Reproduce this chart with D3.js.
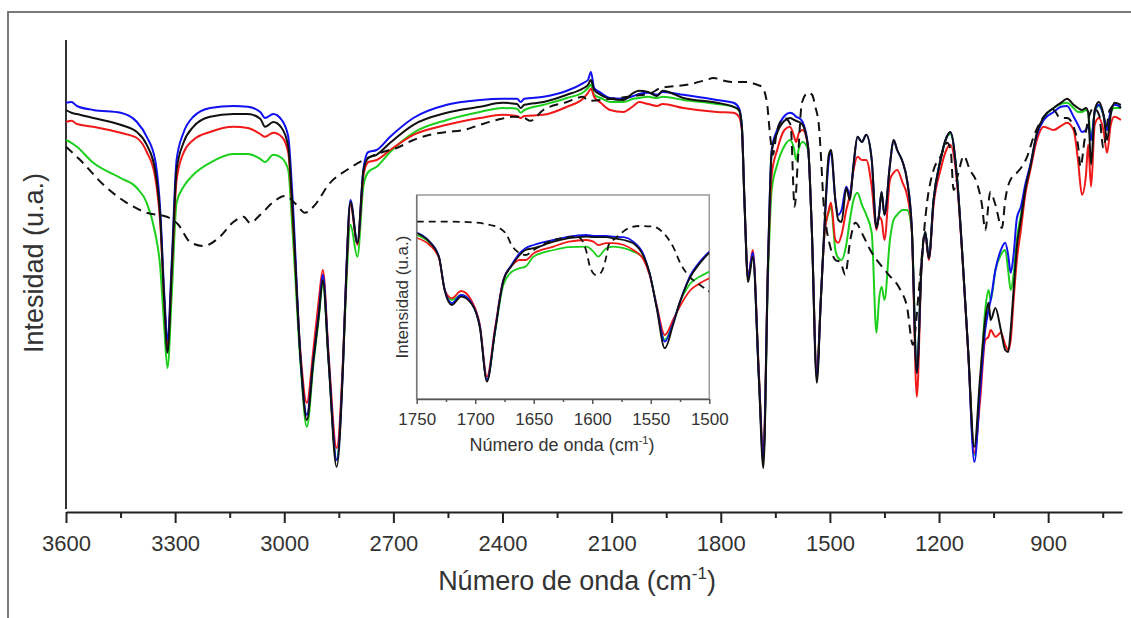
<!DOCTYPE html>
<html lang="es">
<head>
<meta charset="UTF-8">
<title>FTIR</title>
<script src="https://cdn.jsdelivr.net/npm/d3@7"></script>
<style>
  body { margin: 0; background: #fff; }
  text { font-family: "Liberation Sans", Arial, sans-serif; }
</style>
</head>
<body>
<script>
// main spectrum, shared wavenumber grid for the four solid curves (cm-1)
const wn = [3600,3585,3570,3525,3450,3405,3378,3355,3341,3330,3321,3309,3296,3277,3250,3204,3140,3100,3066,3053,
  3030,3007,2989,2978,2955,2938,2920,2905,2894,2878,2856,2838,2830,2818,2799,2782,2769,2746,2709,2645,
  2553,2462,2400,2360,2350,2340,2287,2223,2177,2165,2157,2148,2130,2104,2068,2040,2025,2000,1975,1960,
  1903,1811,1765,1750,1742,1735,1725,1712,1695,1683,1670,1660,1645,1625,1610,1598,1593,1585,1575,1560,
  1550,1536,1525,1515,1503,1497,1485,1477,1468,1455,1445,1435,1424,1412,1400,1385,1372,1365,1358,1350,
  1335,1325,1315,1300,1288,1275,1261,1248,1238,1228,1215,1196,1180,1169,1150,1135,1120,1103,1087,1073,
  1064,1058,1045,1030,1018,1010,1003,995,986,975,963,949,931,912,885,865,848,830,818,807,
  796,790,782,772,761,748,738,728,718,700];

const blue = [102.3,102.5,101.5,100.5,99.8,97.5,93.8,88,75.5,54.8,43,63,88,94.8,98.8,101,101.5,101.3,100,98.5,
  99.5,98,93.8,79.8,38,24.3,38,49.8,59.3,38,13,38,58.8,78,67.3,86,90,90.5,93.8,98.5,
  101.8,103,103.3,103.3,102.5,103.3,103.8,105.3,107.3,108,110,106,104.8,103.5,103.3,104,104.5,104.8,104.3,105,
  104.3,103,102.3,101,96.3,78,58.5,64.8,33,13,63,90.5,95.5,99,99.8,99.3,98.8,98.5,97.5,91.3,
  71.3,33.5,53,71.3,88,90,78,74.3,75.5,81.3,79.3,86.8,93.8,92.5,94.3,88,71,74.3,80,74.3,
  86.8,93,90.5,87.5,83,71.3,34.8,61.8,70,63.5,78,88,93.5,95,83,63,40.5,12.5,30.5,45.5,
  50.5,53,60.5,65.5,67.3,64.3,59.8,64.3,73.5,76.3,81.8,86.8,94.3,98,100,101.3,101.5,98.8,96.8,95,
  95.5,96.8,93,100,101.8,99.3,95.5,100.5,101.8,101.3];

const black = [100.5,99.8,99.5,98.5,96.8,95,91.8,85.5,73.8,53,39.8,61.3,85.5,92.3,96.3,98.8,99.5,99.5,98.3,96.3,
  97.5,96,91.3,76.8,38,23,38,49.3,58,37.5,11.3,37.5,58,77.5,67.3,85.5,88.5,89.3,92.3,96.8,
  99.8,101.3,102.3,102,101,101.8,102.5,104.3,106,106.8,108,105.5,104.3,103.3,103,104.8,105.3,105,104,105.3,
  103.5,102.3,101.3,100.5,96.3,78,57.5,63.8,33,11,62.5,90,94.8,97.8,98.5,98,97.8,97.5,96.8,91.3,
  71.3,32.3,53,71.3,89.3,90.5,78,73,72.5,81,78,86.8,93.8,92.5,94.3,88,71,74.3,80,74.3,
  86.8,93,90.5,87.5,83,71.3,34.8,61.8,70,63.5,78,88,93.5,95,83,63,40.5,16.3,33.8,48,
  52.3,48,51,45.5,40.5,40,45.5,55.5,66.3,73,80.5,86.3,94.8,98.8,101,102.3,103.3,101.8,101,100.5,
  101,100,86.8,100.5,102.5,99.3,93,99.3,102.3,101.8];

const red = [97.5,97.8,97,96.3,94.8,93.5,90,83.8,72.3,53,41.8,60.5,83,89.8,93,95,96.3,96,94.5,93.8,
  94.8,93.8,89.8,75.5,39.3,27.3,40.5,53,60.5,39.3,16,39.3,58,76.8,66.8,84.3,87.5,88,90.5,94.3,
  96.8,98.5,99.3,99,98.5,99,99.3,101.3,103.5,104.8,105.8,103.8,102.3,100.5,100,101.5,102.5,102,101.5,102,
  101,100,99.8,98.8,95.5,78,58.5,65.5,34.3,14.3,62.5,84.3,90.5,95.5,96.3,93.8,92.5,94.8,95.5,91.3,
  71.3,35,53,69.3,75.5,77.3,68,67.3,69.3,75.5,79.3,85.5,88.8,88,88,81.3,70.5,73.8,73,68,
  83,84.8,85.5,82.3,79.3,70.5,28.8,61.8,69.3,63,76.8,85.5,90.5,91.8,81.8,62.5,40,14.8,28,43,
  43.8,45.5,43.8,44.8,41.8,40.5,43,53,63,70.5,79.3,85.5,93,96.3,95.5,96.5,97.3,95.5,88,79.3,
  84.3,91.8,81.3,96.8,98.5,95.5,89.8,96.8,98.8,98];

const green = [93,92.3,91.3,87.3,83.5,81,77.3,69.8,61.3,46.3,36,54.8,77.3,81.3,84.3,87.3,89.5,89.5,88.3,87.5,
  89.3,88.5,85.5,71.3,36.8,21.3,36.8,48.5,57.5,37.5,13,38,55.5,71.8,63.8,81.8,85,86.3,90,94.8,
  98,100,101,100.8,99.8,100.5,101.8,103.5,105,106,106.8,104.3,103.5,102.5,102.5,103.3,103.5,103.8,103.5,103.8,
  103,102,101.3,100.5,96.3,78,58.5,64.3,33.5,13.5,59.3,80.5,86.8,91.5,93,90.5,88,91,92.5,90.5,
  71.3,35,53,69.3,75,76.3,65.5,63.5,63,66.8,73,78,79.8,76.8,74.3,69.8,44.8,53,56.3,53,
  68,73,74.3,75.5,75.5,70.5,34.8,61.8,70,63.5,78,88,93.5,94.5,83,63,40.5,14.3,31.8,50.5,
  55.5,53,60.5,64.3,65.5,60.5,55.5,59.3,68,74.3,80.5,86.3,94.3,98.5,101,102,102.3,101,100,100,
  100.5,99.8,93,100,101.5,99.3,95.5,100,101,101];

// dashed reference spectrum, own grid
const dashWn = [3600,3561,3497,3433,3378,3323,3291,3259,3222,3177,3140,3112,3094,3066,3030,2998,2966,2943,2920,2874,
  2828,2782,2736,2691,2645,2600,2553,2507,2462,2416,2370,2340,2324,2288,2223,2178,2165,2100,2040,1990,
  1966,1893,1840,1820,1790,1765,1728,1700,1687,1673,1664,1657,1645,1625,1608,1597,1588,1577,1560,1549,
  1540,1530,1524,1518,1510,1499,1485,1471,1458,1444,1430,1407,1389,1343,1306,1288,1272,1256,1245,1233,
  1215,1196,1178,1168,1160,1148,1132,1115,1096,1082,1073,1059,1045,1027,1018,999,986,958,940,912,
  885,867,848,830,818,811,800,790,775,760,748,738,731,715,700];
const dashed = [91.3,88,81.8,77.3,74.8,73.8,71.8,67.5,66.5,68.8,72.5,73.8,72.3,74.3,77.5,79,76.8,74.8,76.3,82.3,
  85.5,88,89.8,91,93,94.3,95,95.5,96.8,98,98.8,98.5,97.8,100.5,102.5,103.8,102.8,103.3,104,104.8,
  106,106.8,108,108.5,107.8,107.5,107.5,106.8,106.3,102.3,93.8,89.3,95.5,98.5,96.8,76.3,88,102.3,104.8,104.3,
  101.3,96.3,88,78,71.3,66.3,63,62.5,59.3,68,72.3,68.8,65.5,59.8,55.5,51.3,41.8,54.8,66.3,77.3,
  85.5,88.8,92.3,90.5,80.5,84.3,89,85.5,82.3,76.8,70.5,80,76.8,71,78,83.8,84.8,88.8,93.8,98.8,
  100.5,98.5,98.5,96.3,91.8,86.3,93,98,101,99.3,91,96.8,100.5,101.8,101];

const mainTicks = [3600,3300,3000,2700,2400,2100,1800,1500,1200,900];
const mainMinor = [3450,3150,2850,2550,2250,1950,1650,1350,1050,750];

// inset 1750-1500 cm-1
const insetWn = [1750,1739,1731,1726,1720,1712,1703,1696,1690,1683,1676,1669,1662,1657,1650,1633,1620,1605,1599,1595,
  1588,1582,1573,1565,1556,1551,1545,1538,1531,1525,1516,1508,1500];
const insetBlue = [83.2,78.7,71.2,54.5,47.9,52,47.9,36.2,9.5,34.5,59.5,67,72.9,75.4,77,79.5,81.2,82,81.5,81.5,
  81.5,81.2,80.9,78.7,72,62.9,46.2,28.7,37.9,48.7,62,68.7,73.7];
const insetBlack = [83,78.5,71,54,47,51.2,47.5,35.5,8.7,34,59,66.5,72,74.5,75.4,78.7,80.4,81.2,80.9,80.9,
  80.9,80.4,79.5,77.9,71.2,62.9,45.5,25.4,37,48.7,61.2,67.9,73.2];
const insetRed = [80.5,77,70.5,54.5,50.4,54,49,37,11.2,36,59.5,66.5,69.5,69.5,72.9,76.2,78.7,79.5,78.7,77,
  77.9,77.9,77,74.5,69.5,62,47,32,39.5,46.5,54.5,57.9,60.4];
const insetGreen = [82,78,71,54.5,49.5,52,48,36.5,9.5,33.5,57,63.5,65.4,66.2,71.2,74.5,75.9,76.2,73.7,71.2,
  75.4,76.2,75.4,73.7,70.4,62.9,47,29.5,38.5,48.5,57.9,61.2,63.7];
const insetDashWn = [1750,1723,1700,1687,1679,1673,1669,1664,1657,1650,1640,1625,1613,1608,1605,1602,1597,1593,1588,1586,
  1580,1569,1559,1548,1539,1531,1524,1517,1508,1500];
const insetDashed = [88.7,88.7,88.2,87,85.4,82,77,73.7,72,74.5,78,80.5,81.2,78.7,73.7,66.2,62,62.9,71.2,77,
  80.4,85.4,86.5,86.2,82.9,76.2,67,61.2,57,53.7];
const insetTicks = [1750,1700,1650,1600,1550,1500];
const insetMinor = [1725,1675,1625,1575,1525];

const colors = {green: "#1ccf1c", red: "#f01818", blue: "#1010f0", black: "#111"};

const width = 1131, height = 618;
const svg = d3.select("body").append("svg")
  .attr("width", width)
  .attr("height", height);

// outer frame (runs off the right and bottom edges)
svg.append("rect")
  .attr("x", 8).attr("y", 12)
  .attr("width", 1200).attr("height", 700)
  .attr("fill", "none").attr("stroke", "#7a7a7a").attr("stroke-width", 2);

const x = d3.scaleLinear().domain([3600, 697]).range([66, 1122]);
const y = d3.scaleLinear().domain([0, 118]).range([512, 40]);

// axes
const gx = svg.append("g")
  .attr("transform", "translate(0,512)")
  .call(d3.axisBottom(x).tickValues(mainTicks).tickSize(11).tickSizeOuter(0).tickPadding(12).tickFormat(d3.format("d")));
gx.select(".domain").attr("stroke", "#222").attr("stroke-width", 2);
gx.selectAll(".tick line").attr("stroke", "#222").attr("stroke-width", 2);
gx.selectAll(".tick text").attr("font-size", 22).attr("fill", "#333")
  .attr("font-family", "'Liberation Sans', Arial, sans-serif");

const gm = svg.append("g")
  .attr("transform", "translate(0,512)")
  .call(d3.axisBottom(x).tickValues(mainMinor).tickSize(6).tickFormat(""));
gm.select(".domain").remove();
gm.selectAll(".tick line").attr("stroke", "#222").attr("stroke-width", 2);

svg.append("line")
  .attr("x1", x(3600)).attr("x2", x(3600))
  .attr("y1", 40).attr("y2", 509)
  .attr("stroke", "#333").attr("stroke-width", 2);

// titles
const xt = svg.append("text")
  .attr("x", 577).attr("y", 590)
  .attr("text-anchor", "middle").attr("font-size", 27).attr("fill", "#333");
xt.append("tspan").text("Número de onda (cm");
xt.append("tspan").attr("dy", -11).attr("font-size", 17).text("-1");
xt.append("tspan").attr("dy", 11).text(")");

svg.append("text")
  .attr("transform", "translate(43,263) rotate(-90)")
  .attr("text-anchor", "middle").attr("font-size", 27).attr("fill", "#333")
  .text("Intesidad (u.a.)");

// main curves
function drawSet(g, xs, ys, grid, series, width) {
  series.forEach(s => {
    const line = d3.line()
      .x((d, i) => xs(s.wn[i]))
      .y(d => ys(d))
      .curve(d3.curveMonotoneX);
    g.append("path")
      .datum(s.values)
      .attr("fill", "none")
      .attr("stroke", s.color)
      .attr("stroke-width", width)
      .attr("stroke-linejoin", "round")
      .attr("stroke-dasharray", s.dash || null)
      .attr("d", line);
  });
}

drawSet(svg.append("g"), x, y, wn, [
  {wn: wn, values: green, color: colors.green},
  {wn: wn, values: red, color: colors.red},
  {wn: wn, values: blue, color: colors.blue},
  {wn: wn, values: black, color: colors.black},
  {wn: dashWn, values: dashed, color: colors.black, dash: "9,6"}
], 2);

// inset
const ix = d3.scaleLinear().domain([1750, 1500]).range([416.7, 709.3]);
const iy = d3.scaleLinear().domain([0, 102]).range([399, 195]);

const inset = svg.append("g");
inset.append("rect")
  .attr("x", ix(1750)).attr("y", iy(102))
  .attr("width", ix(1500) - ix(1750)).attr("height", iy(0) - iy(102))
  .attr("fill", "#fff").attr("stroke", "#999").attr("stroke-width", 1.5);

svg.append("clipPath").attr("id", "insetClip")
  .append("rect")
  .attr("x", ix(1750)).attr("y", iy(102))
  .attr("width", ix(1500) - ix(1750)).attr("height", iy(0) - iy(102));

drawSet(inset.append("g").attr("clip-path", "url(#insetClip)"), ix, iy, insetWn, [
  {wn: insetWn, values: insetGreen, color: colors.green},
  {wn: insetWn, values: insetRed, color: colors.red},
  {wn: insetWn, values: insetBlue, color: colors.blue},
  {wn: insetWn, values: insetBlack, color: colors.black},
  {wn: insetDashWn, values: insetDashed, color: colors.black, dash: "7,5"}
], 1.8);

const igx = inset.append("g")
  .attr("transform", "translate(0,399)")
  .call(d3.axisBottom(ix).tickValues(insetTicks).tickSize(5).tickSizeOuter(0).tickPadding(9).tickFormat(d3.format("d")));
igx.select(".domain").attr("stroke", "#555").attr("stroke-width", 1.5);
igx.selectAll(".tick line").attr("stroke", "#555").attr("stroke-width", 1.5);
igx.selectAll(".tick text").attr("font-size", 17).attr("fill", "#333")
  .attr("font-family", "'Liberation Sans', Arial, sans-serif");

const igm = inset.append("g")
  .attr("transform", "translate(0,399)")
  .call(d3.axisBottom(ix).tickValues(insetMinor).tickSize(3).tickFormat(""));
igm.select(".domain").remove();
igm.selectAll(".tick line").attr("stroke", "#555").attr("stroke-width", 1.5);

inset.append("line")
  .attr("x1", ix(1750)).attr("x2", ix(1750))
  .attr("y1", iy(102)).attr("y2", iy(0))
  .attr("stroke", "#777").attr("stroke-width", 1.5);

const ixt = inset.append("text")
  .attr("x", 562).attr("y", 451)
  .attr("text-anchor", "middle").attr("font-size", 18).attr("fill", "#333");
ixt.append("tspan").text("Número de onda (cm");
ixt.append("tspan").attr("dy", -7).attr("font-size", 11).text("-1");
ixt.append("tspan").attr("dy", 7).text(")");

inset.append("text")
  .attr("transform", "translate(408,297) rotate(-90)")
  .attr("text-anchor", "middle").attr("font-size", 17).attr("fill", "#333")
  .text("Intensidad (u.a.)");
</script>
</body>
</html>
